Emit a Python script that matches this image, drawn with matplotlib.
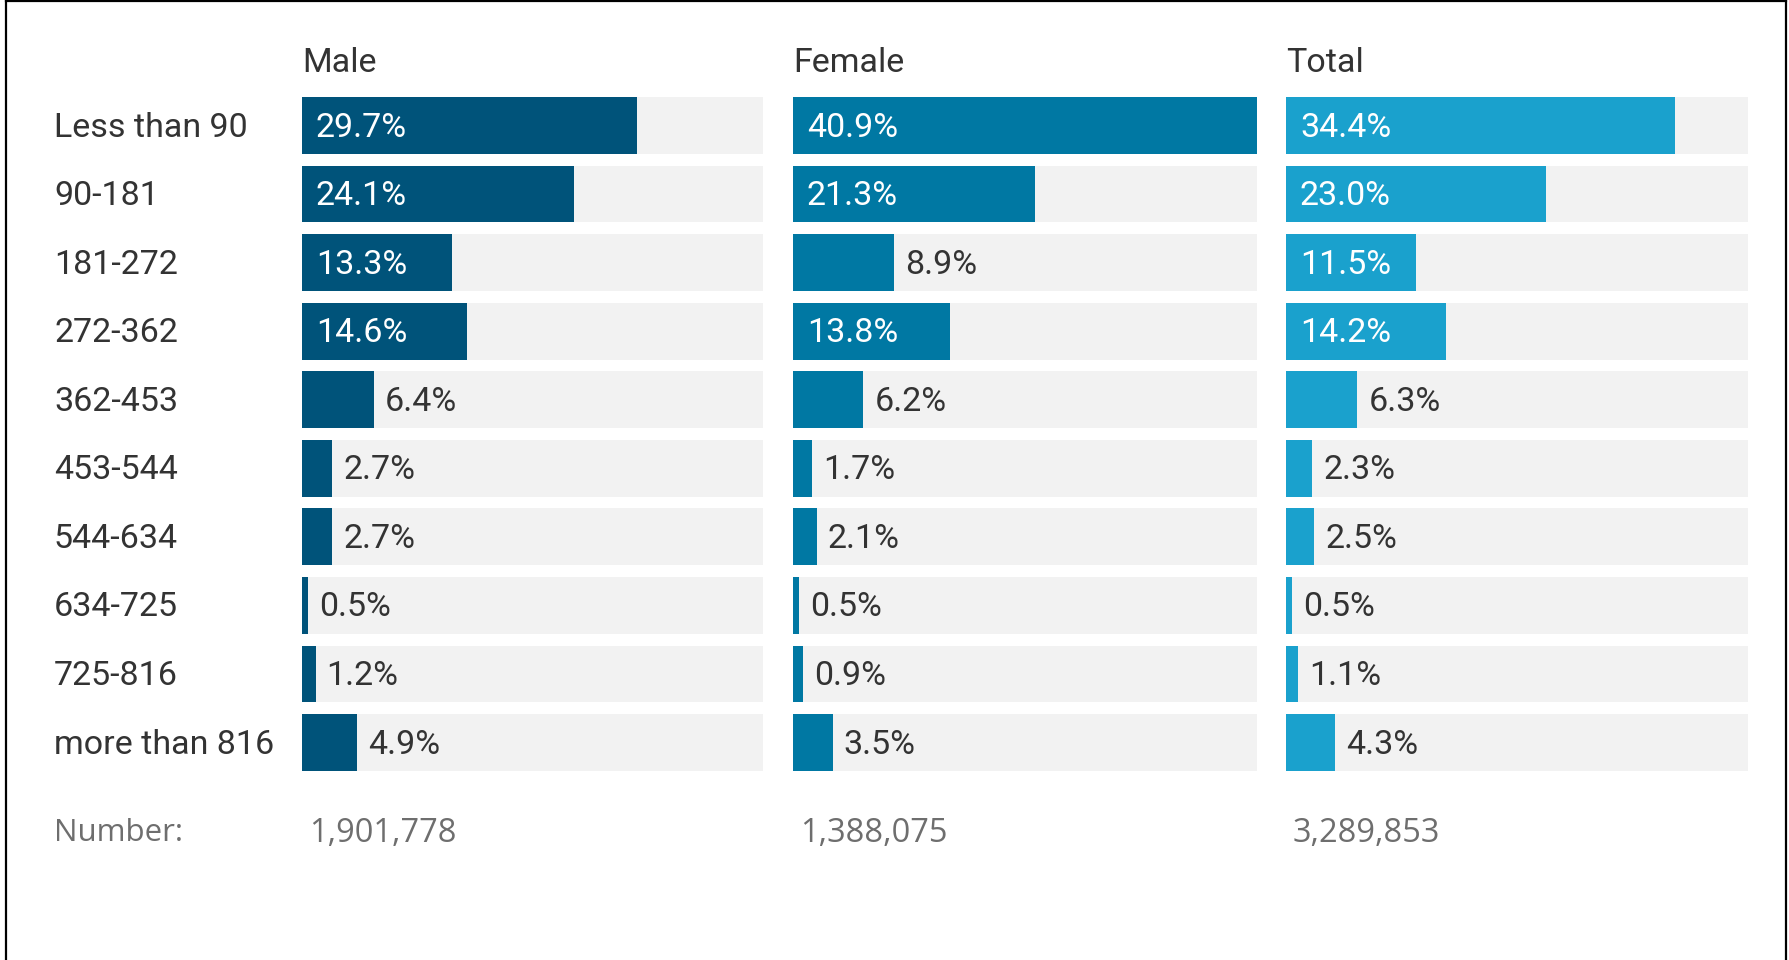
import matplotlib.pyplot as plt
from matplotlib.lines import Line2D
from matplotlib import transforms

# row labels (days)
categories = ['Less than 90', '90-181', '181-272', '272-362', '362-453',
              '453-544', '544-634', '634-725', '725-816', 'more than 816']
groups = ['Male', 'Female', 'Total']
male = [29.7, 24.1, 13.3, 14.6, 6.4, 2.7, 2.7, 0.5, 1.2, 4.9]
female = [40.9, 21.3, 8.9, 13.8, 6.2, 1.7, 2.1, 0.5, 0.9, 3.5]
total = [34.4, 23.0, 11.5, 14.2, 6.3, 2.3, 2.5, 0.5, 1.1, 4.3]
numbers = ['1,901,778', '1,388,075', '3,289,853']

W, H = 1789, 960
colors = ['#00537a', '#0078a3', '#1aa1cd']
bg = '#f2f2f2'
txt = '#333333'
fs = 24.5
xmax = max(max(male), max(female), max(total))

fig = plt.figure(figsize=(W / 100, H / 100), dpi=100)

# pixel extents of the three panels (left, right)
panels = [(302, 763), (793, 1257), (1286, 1748)]
top_px, bot_px = 97, 771
bh = 0.83

axes = []
for (x0, x1), name, vals, col in zip(panels, groups, [male, female, total], colors):
    ax = fig.add_axes([x0 / W, 1 - bot_px / H, (x1 - x0) / W, (bot_px - top_px) / H])
    ypos = list(range(len(categories)))
    ax.barh(ypos, [xmax] * len(ypos), height=bh, color=bg, left=0)
    ax.barh(ypos, vals, height=bh, color=col)
    ax.set_xlim(0, xmax)
    ax.set_ylim(len(categories) - 1 + bh / 2, -bh / 2)
    ax.axis('off')
    for y, v in zip(ypos, vals):
        label = f'{v:.1f}%'
        if v >= 10:
            ax.annotate(label, xy=(0, y), xytext=(10, -1.5), textcoords='offset points',
                        va='center', ha='left', color='white', fontsize=fs,
                        family='Roboto')
        else:
            ax.annotate(label, xy=(v, y), xytext=(8, -1.5), textcoords='offset points',
                        va='center', ha='left', color=txt, fontsize=fs,
                        family='Roboto')
    fig.text(x0 / W, 1 - 63 / H, name, ha='left', va='center', fontsize=fs,
             color=txt, family='Roboto')
    axes.append(ax)

# row labels on the left
tr = transforms.blended_transform_factory(fig.transFigure, axes[0].transData)
for i, c in enumerate(categories):
    fig.text(54 / W, i + 0.03, c, transform=tr, ha='left', va='center', fontsize=fs,
             color=txt, family='Roboto')

# number row
ny = 1 - 833 / H
fig.text(54 / W, ny, 'Number:', ha='left', va='center', fontsize=22.5,
         color='#6e6e6e', family='Open Sans')
for (x0, x1), n in zip(panels, numbers):
    fig.text((x0 + 7) / W, ny, n, ha='left', va='center', fontsize=23.5,
             color='#6e6e6e', family='Open Sans')

# frame around the chart (left, top, right)
fig.add_artist(Line2D([6 / W, 6 / W], [0, 1 - 1 / H], color='black', lw=1.6, transform=fig.transFigure))
fig.add_artist(Line2D([6 / W, 1786 / W], [1 - 1 / H, 1 - 1 / H], color='black', lw=1.6, transform=fig.transFigure))
fig.add_artist(Line2D([1786 / W, 1786 / W], [0, 1 - 1 / H], color='black', lw=1.6, transform=fig.transFigure))

fig.savefig('out.png', dpi=100, facecolor='white')
